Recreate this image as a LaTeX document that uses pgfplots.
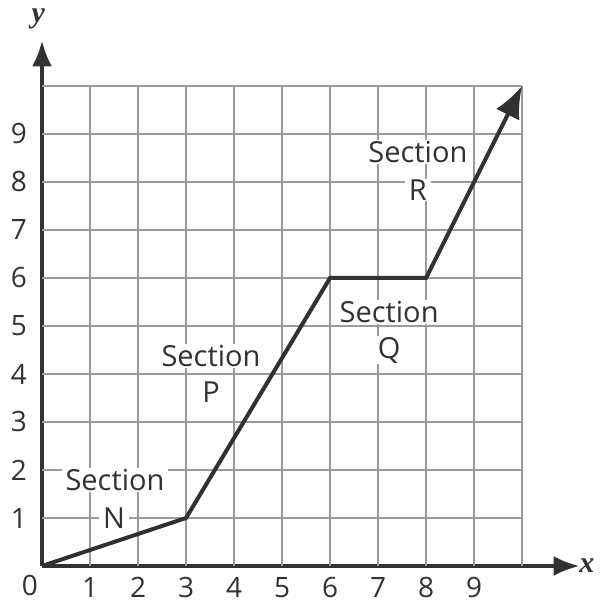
\documentclass[border=0pt]{standalone}
\usepackage{pgfplots}
\pgfplotsset{compat=1.18}
\usepackage{fontspec}
\setmainfont{Open Sans}
\newfontfamily\serif{Liberation Serif}
\usetikzlibrary{arrows.meta}
\definecolor{ink}{RGB}{50,50,50}
\definecolor{gridgray}{RGB}{155,155,155}

\begin{document}
\begin{tikzpicture}
\begin{axis}[
  scale only axis,
  width=268.8pt, height=262.8pt,
  xmin=0, xmax=11.2, ymin=0, ymax=10.95,
  axis lines=left,
  axis line style={ink, line width=2pt, -{Latex[length=13pt,width=10pt]}},
  xtick={1,...,9}, ytick={1,...,9},
  major tick length=0pt,
  tick label style={font=\fontsize{14}{16}\selectfont, text=ink},
  /pgf/number format/assume math mode=true,
  xticklabel style={yshift=-2pt},
  yticklabel style={xshift=-4pt},
  clip=false,
]
% grid, only up to 10
\pgfplotsinvokeforeach{1,...,10}{
  \draw[gridgray, line width=1.1pt] (axis cs:#1,0) -- (axis cs:#1,10);
  \draw[gridgray, line width=1.1pt] (axis cs:0,#1) -- (axis cs:10,#1);
}
% section labels
\tikzset{lab/.style={fill=white, inner xsep=2pt, inner ysep=0.5pt, text=ink,
  font=\fontsize{14.5}{16}\selectfont}}
\node[lab] at (axis cs:1.52,1.79) {Section};
\node[lab] at (axis cs:1.50,1.00) {N};
\node[lab] at (axis cs:3.52,4.38) {Section};
\node[lab] at (axis cs:3.52,3.62) {P};
\node[lab] at (axis cs:7.23,5.29) {Section};
\node[lab] at (axis cs:7.23,4.50) {Q};
\node[lab] at (axis cs:7.83,8.62) {Section};
\node[lab] at (axis cs:7.83,7.83) {R};
% the path
\addplot[ink, line width=2pt, line join=miter,
  -{Latex[length=16pt,width=13pt]}] coordinates {
  (0,0) (3,1) (6,6) (8,6) (10,10)};
% labels
\node[text=ink, font=\fontsize{14}{16}\selectfont] at (axis cs:-0.25,-0.4) {0};
\node[text=ink, font=\serif\bfseries\itshape\fontsize{15}{16}\selectfont] at (axis cs:11.35,0) {x};
\node[text=ink, font=\serif\bfseries\itshape\fontsize{15}{16}\selectfont] at (axis cs:-0.08,11.4) {y};
\path (axis cs:-0.875,-0.833) rectangle (axis cs:11.583,11.79);
\end{axis}
\end{tikzpicture}
\end{document}
